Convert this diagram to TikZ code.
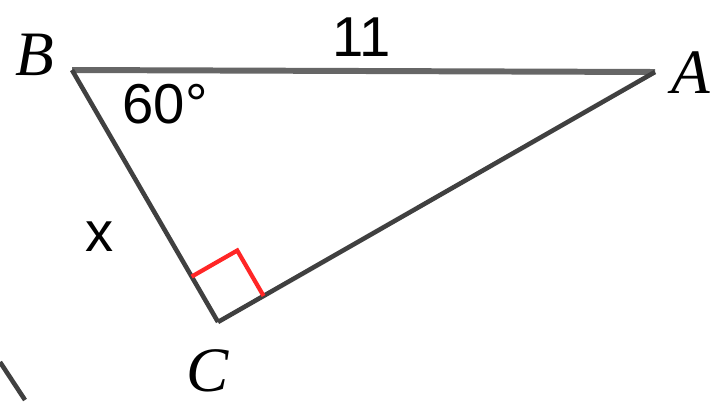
\documentclass[tikz,border=0pt]{standalone}
\usepackage{fontspec}
\setmainfont{Liberation Serif}
\setsansfont{Liberation Sans}
\usetikzlibrary{calc, positioning}

\begin{document}
\begin{tikzpicture}[auto,>=stealth,
  side/.style={draw=black!75,line width=2.6pt},
  vlabel/.style={font=\fontsize{36}{40}\selectfont\itshape,inner sep=0pt},
  mlabel/.style={font=\fontsize{32}{36}\selectfont\sffamily,inner sep=0pt}]
\useasboundingbox (0,0) rectangle (14.24,8.04);
\coordinate (B) at (1.44,6.64);
\coordinate (A) at (13.10,6.60);
\coordinate (C) at (4.36,1.60);
\coordinate (stub1) at (0,0.80);
\coordinate (stub2) at (0.50,0.04);
% sides
\draw[side,draw=black!60,line width=3.4pt] (B) -- (A);
\draw[side] (B) -- (C);
\draw[side] (C) -- (A);
\draw[side] (stub1) -- (stub2);
% right angle at C
\coordinate (rb) at ($(C)!1.05cm!(B)$);
\coordinate (ra) at ($(C)!1.05cm!(A)$);
\coordinate (rc) at ($(rb)+(ra)-(C)$);
\draw[red!85,line width=2.4pt] (rb) -- (rc) -- (ra);
% labels
\node[vlabel] (labB) at (0.70,6.94) {B};
\node[vlabel] (labA) at (13.82,6.58) {A};
\node[vlabel] (labC) at (4.16,0.62) {C};
\node[mlabel] (lab11) at (7.24,7.30) {11};
\node[mlabel] (labang) at (3.30,5.95) {60°};
\node[mlabel] (labx) at (2.00,3.30) {x};
\end{tikzpicture}
\end{document}
